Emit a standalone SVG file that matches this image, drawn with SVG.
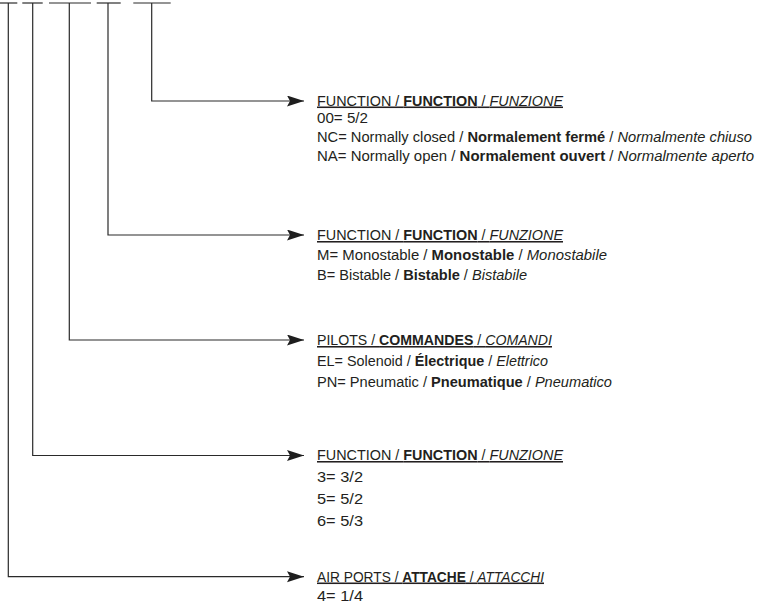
<svg xmlns="http://www.w3.org/2000/svg" width="763" height="602" viewBox="0 0 763 602">
<defs>
<marker id="arr" markerUnits="userSpaceOnUse" markerWidth="18" markerHeight="12" refX="17" refY="5.5" orient="auto">
<path d="M0,0 L17,5.5 L0,11 L3,5.5 Z" fill="#1e1e1e"/>
</marker>
<style>
.ln{fill:none;stroke:#2a2a2a;stroke-width:1.2}
.cn{fill:none;stroke:#2a2a2a;stroke-width:1.2;marker-end:url(#arr)}
text{font-family:"Liberation Sans",Arial,sans-serif;font-size:15.5px;fill:#231f20}
.h{text-decoration:underline}
.b{font-weight:bold}
.i{font-style:italic}
</style>
</defs>
<rect width="763" height="602" fill="#fff"/>
<g id="code">
<line class="ln" x1="0" y1="3" x2="17.3" y2="3"/>
<line class="ln" x1="22.3" y1="3" x2="42.7" y2="3"/>
<line class="ln" x1="49" y1="3" x2="91" y2="3"/>
<line class="ln" x1="96.7" y1="3" x2="120.7" y2="3"/>
<line class="ln" x1="133.3" y1="3" x2="170.7" y2="3"/>
</g>
<g id="connectors">
<path class="cn" d="M151.7,3 V101 H304"/>
<path class="cn" d="M108,3 V235 H304"/>
<path class="cn" d="M69.3,3 V340 H304"/>
<path class="cn" d="M32.7,3 V455.5 H304"/>
<path class="cn" d="M8.3,3 V576.7 H304"/>
</g>
<g id="function-00">
<text x="317" y="105.5" class="h" textLength="246" lengthAdjust="spacingAndGlyphs">FUNCTION / <tspan class="b">FUNCTION</tspan> / <tspan class="i">FUNZIONE</tspan></text>
<text x="317" y="123" textLength="51" lengthAdjust="spacingAndGlyphs">00= 5/2</text>
<text x="317" y="142" textLength="435" lengthAdjust="spacingAndGlyphs">NC= Normally closed / <tspan class="b">Normalement fermé</tspan> / <tspan class="i">Normalmente chiuso</tspan></text>
<text x="317" y="161" textLength="437" lengthAdjust="spacingAndGlyphs">NA= Normally open / <tspan class="b">Normalement ouvert</tspan> / <tspan class="i">Normalmente aperto</tspan></text>
</g>
<g id="function-mb">
<text x="317" y="240" class="h" textLength="246" lengthAdjust="spacingAndGlyphs">FUNCTION / <tspan class="b">FUNCTION</tspan> / <tspan class="i">FUNZIONE</tspan></text>
<text x="317" y="260" textLength="290" lengthAdjust="spacingAndGlyphs">M= Monostable / <tspan class="b">Monostable</tspan> / <tspan class="i">Monostabile</tspan></text>
<text x="317" y="279.5" textLength="210" lengthAdjust="spacingAndGlyphs">B= Bistable / <tspan class="b">Bistable</tspan> / <tspan class="i">Bistabile</tspan></text>
</g>
<g id="pilots">
<text x="317" y="345" class="h" textLength="235" lengthAdjust="spacingAndGlyphs">PILOTS / <tspan class="b">COMMANDES</tspan> / <tspan class="i">COMANDI</tspan></text>
<text x="317" y="366" textLength="231" lengthAdjust="spacingAndGlyphs">EL= Solenoid / <tspan class="b">Électrique</tspan> / <tspan class="i">Elettrico</tspan></text>
<text x="317" y="386.5" textLength="295" lengthAdjust="spacingAndGlyphs">PN= Pneumatic / <tspan class="b">Pneumatique</tspan> / <tspan class="i">Pneumatico</tspan></text>
</g>
<g id="function-356">
<text x="317" y="460" class="h" textLength="246" lengthAdjust="spacingAndGlyphs">FUNCTION / <tspan class="b">FUNCTION</tspan> / <tspan class="i">FUNZIONE</tspan></text>
<text x="317" y="482" textLength="46" lengthAdjust="spacingAndGlyphs">3= 3/2</text>
<text x="317" y="504" textLength="46" lengthAdjust="spacingAndGlyphs">5= 5/2</text>
<text x="317" y="525.5" textLength="46" lengthAdjust="spacingAndGlyphs">6= 5/3</text>
</g>
<g id="air-ports">
<text x="317" y="581.5" class="h" textLength="227" lengthAdjust="spacingAndGlyphs">AIR PORTS / <tspan class="b">ATTACHE</tspan> / <tspan class="i">ATTACCHI</tspan></text>
<text x="317" y="600.5" textLength="46" lengthAdjust="spacingAndGlyphs">4= 1/4</text>
</g>
</svg>
